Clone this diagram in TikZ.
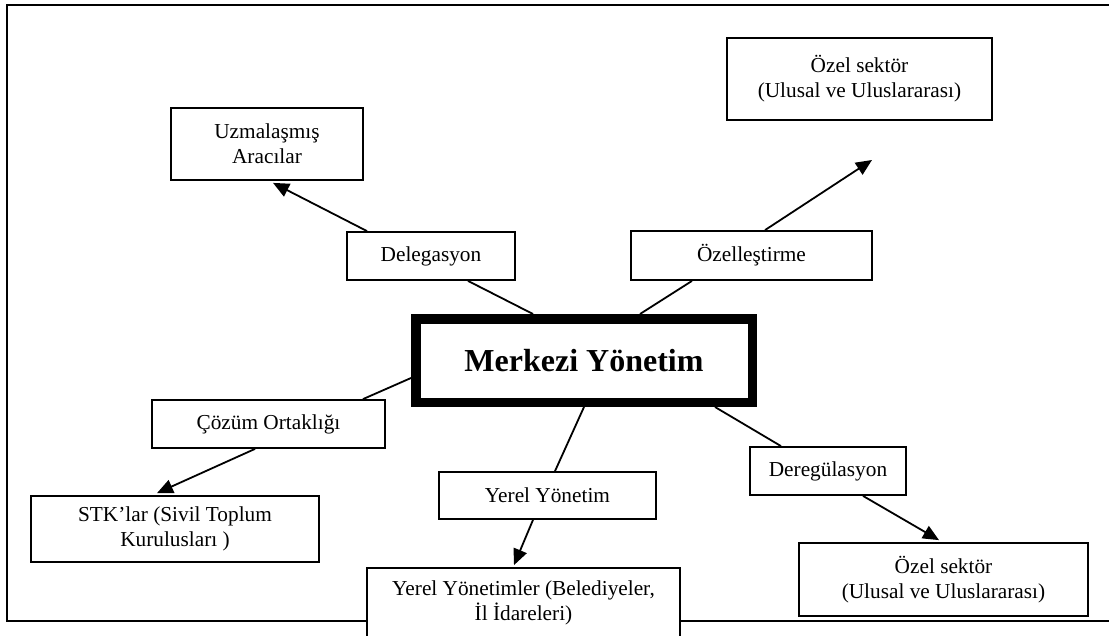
\documentclass[tikz,border=0pt]{standalone}
\usepackage{fontspec}
\setmainfont{Liberation Serif}
\usetikzlibrary{arrows.meta,calc}
\tikzset{
  box/.style={draw, line width=1.8pt, fill=white, inner sep=0pt, align=center,
    font=\fontsize{21.3}{25}\selectfont},
  mainbox/.style={draw, line width=9.5pt, fill=white, inner sep=0pt, align=center,
    font=\fontsize{32}{36}\selectfont\bfseries},
  conn/.style={line width=1.8pt},
  arr/.style={line width=1.8pt, -{Triangle[length=16pt,width=14pt]}},
  frame/.style={line width=2pt}
}
\begin{document}
\begin{tikzpicture}[x=1pt,y=-1pt]
\clip (0,0) rectangle (1109,635);
\fill[white] (0,0) rectangle (1109,635);
\draw[frame] (7,5) rectangle (1130,621);

\node[box, minimum width=192pt, minimum height=72pt] (uzm) at (267,144) {Uzmalaşmış\\Aracılar};
\node[box, minimum width=168pt, minimum height=48pt] (del) at (431,256) {Delegasyon};
\node[box, minimum width=265pt, minimum height=82pt] (ozt) at (859.5,79) {Özel sektör\\(Ulusal ve Uluslararası)};
\node[box, minimum width=241pt, minimum height=49pt] (ozl) at (751.5,255.5) {Özelleştirme};
\node[mainbox, minimum width=336.5pt, minimum height=83.5pt] (main) at (584,360.5) {Merkezi Yönetim};
\node[box, minimum width=233pt, minimum height=48pt] (coz) at (268.5,424) {Çözüm Ortaklığı};
\node[box, minimum width=288pt, minimum height=66pt] (stk) at (175,529) {STK’lar (Sivil Toplum\\Kurulusları )};
\node[box, minimum width=217pt, minimum height=47pt] (yy) at (547.5,495.5) {Yerel Yönetim};
\node[box, minimum width=313pt, minimum height=70pt] (yyl) at (523.5,603) {Yerel Yönetimler (Belediyeler,\\İl İdareleri)};
\node[box, minimum width=156pt, minimum height=48pt] (der) at (828,471) {Deregülasyon};
\node[box, minimum width=289pt, minimum height=73pt] (ozb) at (943.5,579.5) {Özel sektör\\(Ulusal ve Uluslararası)};

\coordinate (ozltip) at (872,160);

\draw[arr] ($(del.north)+(-64,0)$) -- ($(uzm.south)+(6,2)$);
\draw[conn] ($(del.south)+(37,0)$) -- ($(main.north)+(-51,0)$);
\draw[arr] ($(ozl.north)+(13.5,0)$) -- (ozltip);
\draw[conn] ($(main.north)+(56,0)$) -- ($(ozl.south)+(-59.5,0)$);
\draw[conn] ($(main.west)+(0,17.5)$) -- ($(coz.north)+(94.5,0)$);
\draw[arr] ($(coz.south)+(-13.5,0)$) -- ($(stk.north)+(-18,-2)$);
\draw[conn] (main.south) -- ($(yy.north)+(7.5,0)$);
\draw[arr] ($(yy.south)+(-14.5,0)$) -- ($(yyl.north)+(-9.5,-2)$);
\draw[conn] ($(main.south)+(131,0)$) -- ($(der.north)+(-47,0)$);
\draw[arr] ($(der.south)+(35,0)$) -- ($(ozb.north)+(-4.5,-2)$);
\end{tikzpicture}
\end{document}
